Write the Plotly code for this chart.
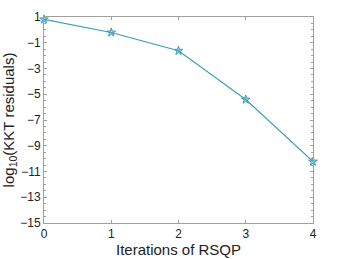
import plotly.graph_objects as go

iterations = [0, 1, 2, 3, 4]
log_kkt = [0.82, -0.2, -1.62, -5.41, -10.23]
y_ticks = [1, -1, -3, -5, -7, -9, -11, -13, -15]
x_ticks = [0, 1, 2, 3, 4]

color = "#3A9DBA"
axis_color = "#a0a0a0"

fig = go.Figure()
fig.add_trace(go.Scatter(
    x=iterations, y=log_kkt, mode="lines+markers",
    line=dict(color=color, width=1.1),
    marker=dict(symbol="star", size=6.5, color="rgba(58,157,186,0.45)",
                line=dict(color=color, width=1)),
    showlegend=False, cliponaxis=False,
))

fig.update_layout(
    width=345, height=259,
    margin=dict(l=44, r=32, t=17, b=36),
    paper_bgcolor="white", plot_bgcolor="white",
    font=dict(family="Liberation Sans, Arial, sans-serif", color="#222"),
)
fig.update_xaxes(
    range=[0, 4], tickvals=x_ticks, ticks="inside", ticklen=3,
    tickcolor=axis_color, showline=True, linecolor=axis_color, linewidth=1,
    mirror="allticks", showgrid=False, zeroline=False, automargin=False,
    tickfont=dict(size=12),
    title=dict(text="Iterations of RSQP", font=dict(size=15), standoff=3),
)
fig.update_yaxes(
    range=[-15, 1], tickvals=y_ticks, ticks="inside", ticklen=3,
    tickcolor=axis_color, showline=True, linecolor=axis_color, linewidth=1,
    mirror="allticks", showgrid=False, zeroline=False, automargin=False,
    tickfont=dict(size=12),
    minor=dict(ticks="inside", ticklen=2, dtick=0.5, tickcolor=axis_color, showgrid=False),
    title=dict(text="log<sub>10</sub>(KKT residuals)", font=dict(size=15), standoff=3),
)

fig.write_html("out.html", config={"displayModeBar": False},
               post_script="document.body.style.margin='0';document.body.style.padding='0';document.body.style.overflow='hidden';")
